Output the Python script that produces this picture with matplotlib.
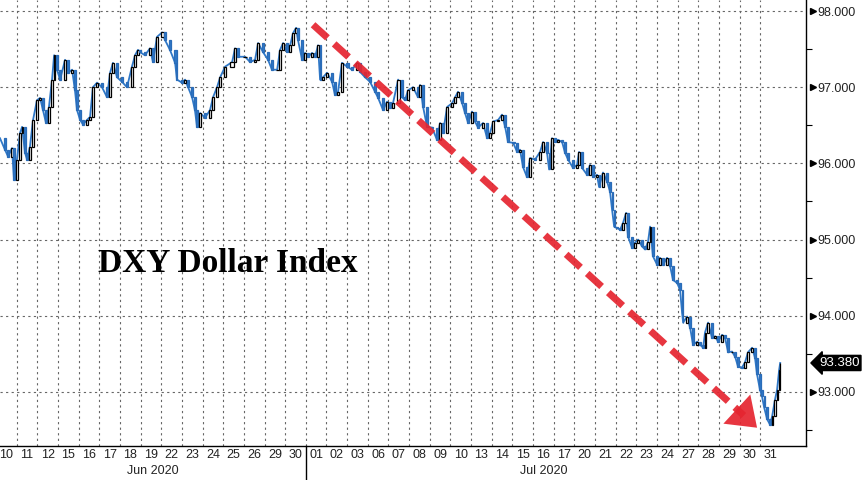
import numpy as np
import matplotlib.pyplot as plt
import matplotlib.transforms as mtransforms

plt.rcParams['font.family'] = ['Liberation Sans', 'DejaVu Sans']

# ---------------- data ----------------
# time position in trading days (day i spans [i, i+1]), close price
t = [0.19, 0.43, 0.58, 0.77, 0.87, 1.01, 1.16, 1.26, 1.40, 1.50,
     1.64, 1.79, 1.98, 2.13, 2.27, 2.42, 2.56, 2.71, 2.81, 2.95,
     3.10, 3.34, 3.48, 3.68, 3.82, 3.92, 4.07, 4.21, 4.40, 4.55,
     4.69, 4.89, 5.13, 5.37, 5.52, 5.66, 5.86, 6.10, 6.34, 6.58,
     6.73, 6.87, 6.97, 7.21, 7.45, 7.60, 7.79, 8.04, 8.18, 8.42,
     8.67, 8.76, 9.00, 9.15, 9.30, 9.49, 9.63, 9.73, 9.88, 10.12,
     10.36, 10.51, 10.70, 10.85, 11.09, 11.43, 11.57, 11.72, 12.06, 12.30,
     12.54, 12.69, 12.93, 13.17, 13.36, 13.61, 13.75, 13.90, 14.09, 14.24,
     14.38, 14.53, 14.62, 14.82, 14.96, 15.11, 15.30, 15.45, 15.59, 15.69,
     15.83, 16.03, 16.27, 16.41, 16.56, 16.75, 17.00, 17.24, 17.48, 17.63,
     17.87, 18.11, 18.35, 18.50, 18.74, 18.93, 19.08, 19.22, 19.47, 19.66,
     19.80, 19.95, 20.19, 20.43, 20.53, 20.68, 20.87, 21.11, 21.35, 21.50,
     21.64, 21.84, 22.08, 22.23, 22.37, 22.57, 22.71, 22.86, 23.05, 23.19,
     23.34, 23.58, 23.78, 23.92, 24.07, 24.31, 24.50, 24.65, 24.79, 25.04,
     25.23, 25.37, 25.52, 25.71, 25.86, 26.10, 26.34, 26.49, 26.68, 26.78,
     26.92, 27.07, 27.21, 27.41, 27.55, 27.70, 27.94, 28.13, 28.23, 28.38,
     28.62, 28.76, 28.91, 29.10, 29.20, 29.39, 29.59, 29.73, 29.83, 29.93,
     30.07, 30.22, 30.36, 30.51, 30.60, 30.80, 30.94, 31.09, 31.28, 31.43,
     31.57, 31.67, 31.81, 32.01, 32.15, 32.30, 32.49, 32.64, 32.78, 32.98,
     33.12, 33.22, 33.27, 33.46, 33.61, 33.75, 33.95, 34.09, 34.24, 34.33,
     34.48, 34.67, 34.82, 34.96, 35.16, 35.30, 35.45, 35.64, 35.79, 35.93,
     36.12, 36.27, 36.41, 36.61, 36.75, 36.85, 36.99, 37.09, 37.19, 37.34,
     37.48, 37.58, 37.72, 37.82, 37.92, 37.97]
close = [96.33, 96.18, 96.09, 96.20, 95.78, 96.05, 96.40, 96.48, 96.14, 96.05,
         96.22, 96.57, 96.83, 96.86, 96.70, 96.53, 96.74, 97.10, 97.42, 97.23,
         97.10, 97.36, 97.19, 97.23, 96.96, 96.70, 96.57, 96.51, 96.57, 96.61,
         97.00, 97.06, 97.00, 96.87, 97.19, 97.32, 97.13, 97.07, 97.00, 97.27,
         97.42, 97.49, 97.46, 97.42, 97.51, 97.33, 97.66, 97.72, 97.62, 97.49,
         97.32, 97.10, 97.06, 97.10, 97.00, 96.87, 96.70, 96.48, 96.66, 96.60,
         96.70, 96.87, 97.00, 97.13, 97.27, 97.33, 97.51, 97.40, 97.40, 97.33,
         97.36, 97.58, 97.46, 97.36, 97.23, 97.23, 97.49, 97.58, 97.46, 97.55,
         97.71, 97.78, 97.62, 97.36, 97.45, 97.40, 97.45, 97.40, 97.55, 97.10,
         97.13, 97.19, 97.07, 96.90, 96.94, 97.32, 97.27, 97.23, 97.32, 97.20,
         97.13, 97.07, 96.94, 96.86, 96.70, 96.81, 96.73, 96.79, 97.10, 96.87,
         96.83, 96.96, 97.00, 96.87, 97.03, 96.74, 96.48, 96.47, 96.31, 96.53,
         96.40, 96.74, 96.79, 96.87, 96.94, 96.79, 96.66, 96.53, 96.68, 96.55,
         96.47, 96.53, 96.33, 96.40, 96.55, 96.57, 96.64, 96.48, 96.28, 96.27,
         96.15, 96.18, 95.95, 95.82, 96.07, 96.05, 96.15, 96.28, 96.14, 95.92,
         96.33, 96.28, 96.31, 96.28, 96.14, 96.05, 95.94, 95.98, 96.15, 95.94,
         95.85, 95.98, 95.82, 95.85, 95.69, 95.88, 95.76, 95.63, 95.39, 95.17,
         95.15, 95.13, 95.22, 95.35, 95.04, 94.89, 94.96, 95.00, 94.91, 94.87,
         94.97, 95.17, 94.78, 94.67, 94.76, 94.67, 94.76, 94.65, 94.47, 94.43,
         94.34, 94.04, 93.91, 93.99, 93.84, 93.62, 93.66, 93.62, 93.58, 93.78,
         93.91, 93.71, 93.73, 93.66, 93.75, 93.71, 93.52, 93.53, 93.46, 93.33,
         93.32, 93.39, 93.52, 93.58, 93.45, 93.23, 93.03, 92.94, 92.80, 92.64,
         92.57, 92.68, 92.90, 93.03, 93.29, 93.38]

day_labels = ['10', '11', '12', '15', '16', '17', '18', '19', '22', '23',
              '24', '25', '26', '29', '30', '01', '02', '03', '06', '07',
              '08', '09', '10', '13', '14', '15', '16', '17', '20', '21',
              '22', '23', '24', '27', '28', '29', '30', '31']
months = ['Jun 2020', 'Jul 2020']
month_days = [15, 23]
y_major = [93, 94, 95, 96, 97, 98]
last_price = 93.380

# ---------------- figure ----------------
fig = plt.figure(figsize=(8.65, 4.8), dpi=100)
ax = fig.add_axes([0, 34 / 480, 806 / 865, 446 / 480])

t = np.array(t)
close = np.array(close)
o = close[:-1]
c = close[1:]
w = 0.55 * np.diff(t)
up = c >= o
fc = np.where(up, 'white', '#2f78c8')
ec = np.where(up, 'black', '#2a6cb8')
ax.plot(t, close, color='#2f78c8', lw=1.3, zorder=2)
ax.bar(t[1:], c - o, bottom=o, width=w, color=fc, edgecolor=ec, linewidth=0.9, zorder=3)

# x axis: days
ax.set_xlim(0.19, 39.22)
ax.set_ylim(92.29, 98.145)
ax.set_xticks(np.arange(len(day_labels)) + 0.5)
ax.set_xticklabels(day_labels, fontsize=9, color='#222222')
ax.set_xticks(np.arange(1, len(day_labels)), minor=True)
ax.tick_params(axis='x', which='both', length=0, pad=2.5)
ax.grid(which='minor', axis='x', color='#666666', ls=(0, (2, 3)), lw=0.8)

# month labels and separator
start = 0
trans = ax.get_xaxis_transform()
for m, n in zip(months, month_days):
    mid = (max(start, 0.19) + start + n) / 2
    ax.text(mid, -0.056, m, transform=trans, ha='center', va='center',
            fontsize=9, color='#222222')
    start += n
ax.plot([15, 15], [0, -0.08], transform=trans, color='black', lw=1, clip_on=False)

# y axis on the right
ax.yaxis.tick_right()
ax.set_yticks(y_major)
ax.set_yticklabels(['%.3f' % v for v in y_major], fontsize=9, color='#222222')
ax.set_yticks(np.arange(92.5, 98.0, 1.0), minor=True)
ax.tick_params(axis='y', which='major', length=0, pad=8)
ax.tick_params(axis='y', which='minor', length=4, width=0.8, direction='out')
ax.grid(which='major', axis='y', color='#666666', ls=(0, (2, 3)), lw=0.8)
ytrans = mtransforms.blended_transform_factory(ax.transAxes, ax.transData)
ax.plot([1.0085] * len(y_major), y_major, transform=ytrans, ls='none',
        marker='>', ms=4.5, color='black', clip_on=False)

for s in ['left', 'top']:
    ax.spines[s].set_visible(False)
for s in ['right', 'bottom']:
    ax.spines[s].set_linewidth(1.0)
    ax.spines[s].set_color('black')
ax.set_axisbelow(True)

# last price box
ax.text(1.016, last_price, '%.3f' % last_price, transform=ytrans, ha='left', va='center',
        fontsize=9.5, color='white',
        bbox=dict(boxstyle='larrow,pad=0.12', fc='black', ec='black'))

# title text
ax.text(0.121, 0.41, 'DXY Dollar Index', transform=ax.transAxes, fontsize=24,
        fontweight='bold', family='Liberation Serif', ha='left', va='center',
        color='black')

# red dashed trend arrow
red = '#e52530'
ax.plot([15.35, 36.21], [97.82, 92.69], color=red, lw=5, ls=(0, (2.8, 1.3)),
        dash_capstyle='butt', alpha=0.92, zorder=5)
ax.annotate('', xy=(36.85, 92.53), xytext=(36.21, 92.69),
            arrowprops=dict(arrowstyle='-|>,head_length=0.9,head_width=0.65',
                            color=red, lw=0, mutation_scale=22,
                            shrinkA=0, shrinkB=0, alpha=0.92), zorder=5)

fig.savefig('out.png', dpi=100)
